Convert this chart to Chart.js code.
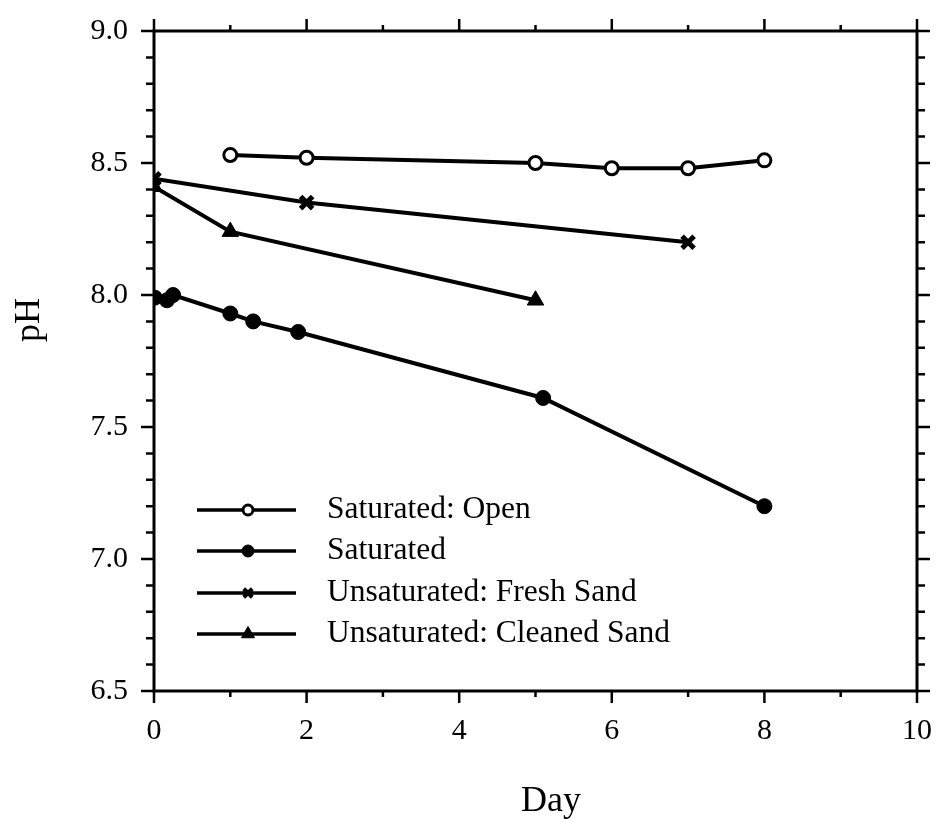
<!DOCTYPE html>
<html>
<head>
<meta charset="utf-8">
<script src="https://cdn.jsdelivr.net/npm/chart.js@4.4.1/dist/chart.umd.min.js"></script>
<style>
  html, body { margin: 0; padding: 0; background: #fff; }
  canvas { display: block; }
</style>
</head>
<body>
<canvas id="phChart" width="940" height="819"></canvas>
<script>
// pH readings per treatment, day vs pH
const openDays = [1, 2, 5, 6, 7, 8];
const openPH = [8.53, 8.52, 8.50, 8.48, 8.48, 8.51];

const satDays = [0.01, 0.17, 0.25, 1.0, 1.3, 1.89, 5.1, 8.0];
const satPH = [7.99, 7.98, 8.00, 7.93, 7.90, 7.86, 7.61, 7.20];

const freshDays = [0, 2, 7];
const freshPH = [8.44, 8.35, 8.20];

const cleanedDays = [0, 1, 5];
const cleanedPH = [8.41, 8.24, 7.98];

const seriesNames = ['Saturated: Open', 'Saturated', 'Unsaturated: Fresh Sand', 'Unsaturated: Cleaned Sand'];
const xTicks = [0, 2, 4, 6, 8, 10];
const yTicks = [6.5, 7.0, 7.5, 8.0, 8.5, 9.0];

const serif = '"Liberation Serif", "DejaVu Serif", serif';

function toPoints(xs, ys) {
    return xs.map((x, i) => ({ x: x, y: ys[i] }));
}

// marker look per series; legend uses a smaller copy
const markers = [
    { pointStyle: 'circle', radius: 6.5, borderWidth: 3, fill: '#fff', legendRadius: 5 },
    { pointStyle: 'circle', radius: 7.5, borderWidth: 1, fill: '#000', legendRadius: 6 },
    { pointStyle: 'crossRot', radius: 8.5, borderWidth: 5, fill: '#000', legendRadius: 6 },
    { pointStyle: 'triangle', radius: 9.5, borderWidth: 1, fill: '#000', legendRadius: 7.5 }
];

const seriesData = [
    toPoints(openDays, openPH),
    toPoints(satDays, satPH),
    toPoints(freshDays, freshPH),
    toPoints(cleanedDays, cleanedPH)
];

const datasets = seriesData.map((pts, i) => ({
    label: seriesNames[i],
    data: pts,
    borderColor: '#000',
    borderWidth: 4,
    backgroundColor: markers[i].fill,
    pointStyle: markers[i].pointStyle,
    pointRadius: markers[i].radius,
    pointBorderWidth: markers[i].borderWidth,
    pointBackgroundColor: markers[i].fill,
    pointBorderColor: '#000',
    tension: 0,
    fill: false
}));

// frame, tick marks, axis titles and legend
const decorPlugin = {
    id: 'decor',
    afterDraw(chart) {
        const ctx = chart.ctx;
        const a = chart.chartArea;
        const xs = chart.scales.x;
        const ys = chart.scales.y;
        ctx.save();
        ctx.strokeStyle = '#000';
        ctx.lineWidth = 3;
        ctx.strokeRect(a.left, a.top, a.right - a.left, a.bottom - a.top);

        ctx.lineWidth = 2.5;
        ctx.beginPath();
        for (let d = 0; d <= 10; d++) {
            const px = xs.getPixelForValue(d);
            const len = d % 2 === 0 ? 12 : 6;
            ctx.moveTo(px, a.bottom);
            ctx.lineTo(px, a.bottom + len);
            ctx.moveTo(px, a.top);
            ctx.lineTo(px, a.top - len);
        }
        for (let k = 0; k <= 25; k++) {
            const py = ys.getPixelForValue(6.5 + k * 0.1);
            const len = k % 5 === 0 ? 13 : 8;
            ctx.moveTo(a.left, py);
            ctx.lineTo(a.left - len, py);
            ctx.moveTo(a.right, py);
            ctx.lineTo(a.right + len, py);
        }
        ctx.stroke();

        ctx.fillStyle = '#000';
        ctx.font = '36px ' + serif;
        ctx.textAlign = 'center';
        ctx.textBaseline = 'middle';
        ctx.fillText('Day', 551, 802);
        ctx.save();
        ctx.translate(30, 320);
        ctx.rotate(-Math.PI / 2);
        ctx.fillText('pH', 0, 0);
        ctx.restore();

        // legend: line sample with marker in the middle
        const rowY = [510, 551, 593, 634];
        ctx.font = '31.5px ' + serif;
        ctx.textAlign = 'left';
        rowY.forEach((y, i) => {
            ctx.strokeStyle = '#000';
            ctx.lineWidth = 3.5;
            ctx.beginPath();
            ctx.moveTo(197, y);
            ctx.lineTo(296, y);
            ctx.stroke();
            const m = markers[i];
            ctx.fillStyle = m.fill;
            ctx.lineWidth = m.pointStyle === 'crossRot' ? 4 : m.borderWidth;
            Chart.helpers.drawPoint(ctx, {
                pointStyle: m.pointStyle,
                radius: m.legendRadius,
                borderWidth: ctx.lineWidth,
                rotation: 0
            }, 248, y);
            ctx.fillStyle = '#000';
            ctx.fillText(seriesNames[i], 327, y);
        });
        ctx.restore();
    }
};

new Chart(document.getElementById('phChart'), {
    type: 'line',
    data: { datasets: datasets },
    options: {
        responsive: false,
        animation: false,
        devicePixelRatio: 1,
        layout: { padding: { top: 31, right: 23, left: 0, bottom: 0 } },
        plugins: {
            legend: { display: false },
            tooltip: { enabled: false }
        },
        scales: {
            x: {
                type: 'linear',
                min: 0,
                max: 10,
                afterFit(scale) {
                    scale.height = 128;
                    scale.paddingLeft = 0;
                    scale.paddingRight = 0;
                },
                afterBuildTicks(scale) { scale.ticks = xTicks.map(v => ({ value: v })); },
                ticks: {
                    color: '#000',
                    font: { family: serif, size: 30 },
                    padding: 22,
                    maxRotation: 0,
                    callback: v => String(v)
                },
                grid: { display: false, drawTicks: false },
                border: { display: false }
            },
            y: {
                type: 'linear',
                min: 6.5,
                max: 9.0,
                afterFit(scale) {
                    scale.width = 154;
                    scale.paddingTop = 0;
                    scale.paddingBottom = 0;
                },
                afterBuildTicks(scale) { scale.ticks = yTicks.map(v => ({ value: v })); },
                ticks: {
                    color: '#000',
                    font: { family: serif, size: 30 },
                    padding: 26,
                    callback: v => v.toFixed(1)
                },
                grid: { display: false, drawTicks: false },
                border: { display: false }
            }
        }
    },
    plugins: [decorPlugin]
});
</script>
</body>
</html>
